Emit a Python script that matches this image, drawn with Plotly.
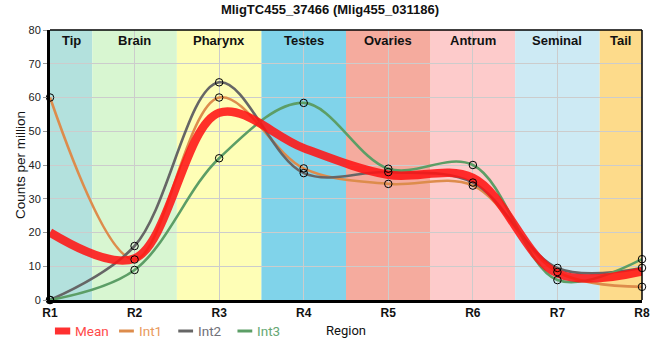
import plotly.graph_objects as go

regions = ["R1", "R2", "R3", "R4", "R5", "R6", "R7", "R8"]
int1 = [60.0, 12.0, 60.0, 39.0, 34.4, 33.9, 8.3, 3.9]
int2 = [0.0, 16.0, 64.5, 37.6, 37.9, 34.8, 9.5, 9.5]
int3 = [0.0, 8.9, 42.0, 58.4, 38.9, 40.0, 5.9, 12.1]
mean = [20.0, 12.3, 55.5, 45.0, 37.1, 36.2, 7.9, 8.5]

band_names = ["Tip", "Brain", "Pharynx", "Testes", "Ovaries", "Antrum", "Seminal", "Tail"]
band_starts = [1.0, 1.5, 2.5, 3.5, 4.5, 5.5, 6.5, 7.5]
band_ends = [1.5, 2.5, 3.5, 4.5, 5.5, 6.5, 7.5, 8.0]
band_colors = ["#b3e1dd", "#d8f6d1", "#fefeb6", "#80d3ea", "#f5ab9e", "#fdcbcb", "#cdeaf4", "#fddb8b"]

xs = list(range(1, len(regions) + 1))

series = [
    ("Int1", int1, "#dd8c4c"),
    ("Int2", int2, "#666666"),
    ("Int3", int3, "#5c9e66"),
]

W, H = 660, 360
ML, MR, MT, MB = 50, 10, 30, 60
PW, PH = W - ML - MR, H - MT - MB

fig = go.Figure()

for name, vals, col in series:
    fig.add_trace(go.Scatter(
        x=xs, y=vals, name=name, mode="lines",
        line=dict(color=col, width=2.6, shape="spline", smoothing=1.0),
        showlegend=False, hoverinfo="skip"))

fig.add_trace(go.Scatter(
    x=xs, y=mean, name="Mean", mode="lines",
    line=dict(color="rgba(255,20,20,0.88)", width=8.5, shape="spline", smoothing=1.0),
    showlegend=False))

for name, vals, col in series:
    fig.add_trace(go.Scatter(
        x=xs, y=vals, name=name, mode="markers", cliponaxis=False,
        marker=dict(symbol="circle", size=7.5, color="rgba(0,0,0,0)",
                    line=dict(color="black", width=1)),
        showlegend=False))

shapes = []
annotations = []
for nm, s, e, c in zip(band_names, band_starts, band_ends, band_colors):
    shapes.append(dict(type="rect", xref="x", yref="y", x0=s, x1=e, y0=0, y1=80,
                       fillcolor=c, line=dict(width=0), layer="below"))
    annotations.append(dict(x=(s + e) / 2, y=76.8, xref="x", yref="y", text="<b>%s</b>" % nm,
                            showarrow=False, font=dict(family="Liberation Sans, Arial", size=13, color="#111")))

# frame top and right
shapes.append(dict(type="line", xref="paper", yref="paper", x0=0, x1=1, y0=1, y1=1,
                   line=dict(color="black", width=1.5)))
shapes.append(dict(type="line", xref="paper", yref="paper", x0=1, x1=1, y0=0, y1=1,
                   line=dict(color="black", width=1.5)))

# manual legend
ly = -31 / PH
shapes.append(dict(type="rect", xref="paper", yref="paper", x0=5 / PW, x1=20.5 / PW,
                   y0=ly - 3.5 / PH, y1=ly + 3.5 / PH, fillcolor="#ff3030", line=dict(width=0)))
legend_items = [("Mean", "#ff4a4a", 23), ("Int1", "#e99a5c", 88), ("Int2", "#707078", 148), ("Int3", "#66a874", 208)]
line_cols = {"Int1": "#dd8c4c", "Int2": "#666666", "Int3": "#5c9e66"}
for nm, tc, tx in legend_items:
    if nm != "Mean":
        x0 = (tx - 18) / PW
        shapes.append(dict(type="line", xref="paper", yref="paper", x0=x0, x1=x0 + 15 / PW,
                           y0=ly, y1=ly, line=dict(color=line_cols[nm], width=3)))
    annotations.append(dict(x=tx / PW, y=ly, xref="paper", yref="paper", text=nm,
                            xanchor="left", yanchor="middle", showarrow=False,
                            font=dict(family="Roboto", size=13.5, color=tc)))

fig.update_layout(
    width=W, height=H,
    margin=dict(l=ML, r=MR, t=MT, b=MB),
    paper_bgcolor="white", plot_bgcolor="white",
    title=dict(text="<b>MligTC455_37466 (Mlig455_031186)</b>", x=0.5, xanchor="center",
               y=1 - 9 / H, yanchor="middle", font=dict(family="Liberation Sans, Arial", size=13, color="#111")),
    shapes=shapes, annotations=annotations,
    showlegend=False,
    xaxis=dict(range=[1, 8], tickvals=xs, ticktext=regions, showgrid=True, gridcolor="#cccccc",
               gridwidth=1, zeroline=False, showline=True, linecolor="black", linewidth=3,
               tickfont=dict(family="Liberation Sans, Arial", size=12, color="#111", weight="bold"),
               title=dict(text="Region", font=dict(family="Roboto", size=13, color="#111"), standoff=7)),
    yaxis=dict(range=[0, 80], dtick=10, showgrid=True, gridcolor="#cccccc", gridwidth=1,
               zeroline=False, showline=True, linecolor="black", linewidth=3,
               ticks="outside", ticklen=4, tickcolor="#999",
               tickfont=dict(family="Liberation Sans, Arial", size=11, color="#222"),
               title=dict(text="Counts per million", font=dict(family="Liberation Sans, Arial", size=13.5, color="#111"), standoff=0)),
)

fig.write_html("out.html", config={"displayModeBar": False},
               post_script="document.body.style.margin='0px';document.body.style.padding='0px';")
